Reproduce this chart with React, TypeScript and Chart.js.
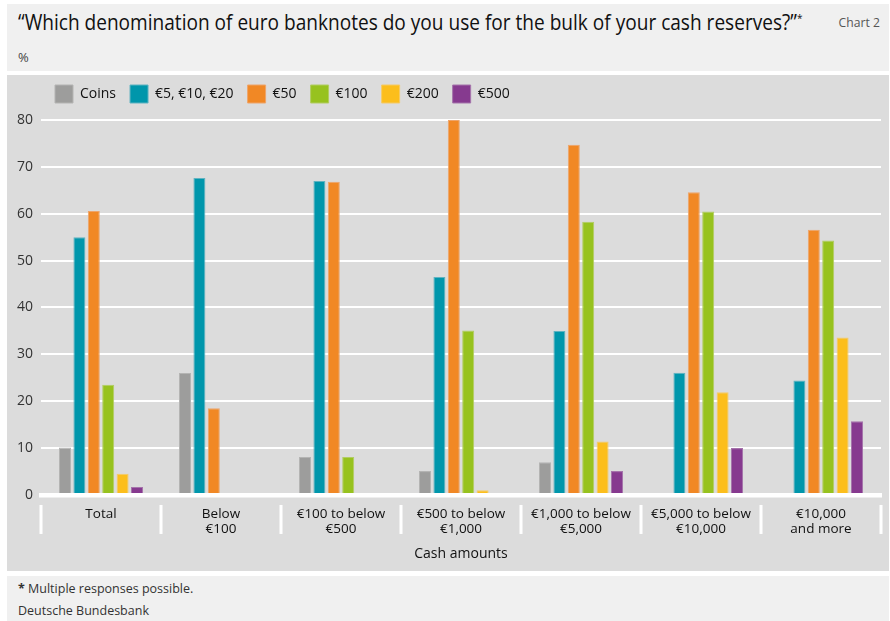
import React, { useEffect, useRef } from "react";
import { Chart, registerables } from "chart.js";

Chart.register(...registerables);

const categories: string[][] = [
  ["Total"],
  ["Below", "€100"],
  ["€100 to below", "€500"],
  ["€500 to below", "€1,000"],
  ["€1,000 to below", "€5,000"],
  ["€5,000 to below", "€10,000"],
  ["€10,000", "and more"],
];

const coins = [10.1, 26.0, 8.1, 5.1, 7.0, null, null];
const small = [55.0, 67.6, 67.0, 46.5, 35.0, 26.1, 24.4];
const fifty = [60.6, 18.5, 66.8, 80.0, 74.7, 64.6, 56.6];
const hundred = [23.5, null, 8.1, 35.1, 58.3, 60.5, 54.3];
const twoHundred = [4.5, null, null, 1.0, 11.4, 21.9, 33.6];
const fiveHundred = [1.7, null, null, null, 5.1, 10.0, 15.7];

const seriesNames = ["Coins", "€5, €10, €20", "€50", "€100", "€200", "€500"];
const yTicks = [0, 10, 20, 30, 40, 50, 60, 70, 80];

const FONT = "'Open Sans', 'Noto Sans', sans-serif";

const colors = ["#9d9d9c", "#0096ab", "#f18825", "#97c21f", "#fcbe1c", "#863a8f"];
const borders = ["#b4b4b3", "#5fb3c1", "#eea46a", "#b1cd62", "#f5ca66", "#a574ab"];

const dividerPlugin = {
  id: "dividers",
  afterDraw(chart: any) {
    const x = chart.scales.x;
    const n = chart.data.labels.length;
    const ctx = chart.ctx;
    const half = (x.getPixelForValue(1) - x.getPixelForValue(0)) / 2;
    const top = chart.chartArea.bottom + 10;
    const bottom = chart.chartArea.bottom + 39;
    ctx.save();
    ctx.fillStyle = "#ffffff";
    for (let i = 0; i <= n; i++) {
      const px = i < n ? x.getPixelForValue(i) - half : x.getPixelForValue(n - 1) + half;
      ctx.fillRect(Math.round(px) - 1.5, top, 3, bottom - top);
    }
    ctx.restore();
  },
};

function BarChart() {
  const ref = useRef<HTMLCanvasElement>(null);
  useEffect(() => {
    const data = [coins, small, fifty, hundred, twoHundred, fiveHundred];
    const chart = new Chart(ref.current!, {
      type: "bar",
      data: {
        labels: categories,
        datasets: data.map((d, i) => ({
          label: seriesNames[i],
          data: d,
          backgroundColor: colors[i],
          borderColor: borders[i],
          borderWidth: 1,
          borderSkipped: "start",
          categoryPercentage: 0.72,
          barPercentage: 0.833,
        })),
      },
      options: {
        animation: false,
        responsive: false,
        devicePixelRatio: 1,
        layout: { padding: { top: -4, right: 8, bottom: 9, left: 0 } },
        plugins: {
          legend: {
            position: "top",
            align: "start",
            fullSize: false,
            labels: {
              boxWidth: 18,
              boxHeight: 18,
              padding: 14,
              color: "#111",
              font: { family: FONT, size: 14 },
            },
          },
          subtitle: {
            display: true,
            text: "",
            position: "top",
            weight: 0,
            font: { size: 1, lineHeight: 1 },
            padding: { top: 3, bottom: 3 },
          },
          tooltip: { enabled: false },
        },
        scales: {
          x: {
            grid: { display: false, drawTicks: false, offset: true },
            border: { display: true, color: "#ffffff", width: 4.5, z: 1 },
            ticks: {
              color: "#111",
              padding: 12,
              font: { family: FONT, size: 13.5, lineHeight: 1.12 },
              maxRotation: 0,
              autoSkip: false,
            },
            title: {
              display: true,
              text: "Cash amounts",
              color: "#111",
              font: { family: FONT, size: 14 },
              padding: { top: -4, bottom: 0 },
            },
          },
          y: {
            min: 0,
            max: 80,
            afterFit(scale: any) {
              scale.width = 34;
            },
            afterBuildTicks(scale: any) {
              scale.ticks = yTicks.map((v) => ({ value: v }));
            },
            grid: {
              color: "#ffffff",
              lineWidth: (c: any) => (c.tick && c.tick.value === 0 ? 0 : 2),
              drawTicks: false,
            },
            border: { display: false },
            ticks: {
              color: "#333",
              padding: 8,
              font: { family: FONT, size: 14 },
            },
          },
        },
      },
      plugins: [dividerPlugin],
    });
    return () => chart.destroy();
  }, []);
  return <canvas ref={ref} width={882} height={496} style={{ display: "block" }} />;
}

export default function App() {
  return (
    <div
      style={{
        position: "fixed",
        left: 0,
        top: 0,
        width: 890,
        height: 621,
        background: "#ffffff",
        fontFamily: FONT,
        overflow: "hidden",
      }}
    >
      <div
        style={{
          position: "absolute",
          left: 7,
          top: 4,
          width: 882,
          height: 67,
          background: "#f0f0f0",
        }}
      >
        <div
          style={{
            position: "absolute",
            left: 11,
            top: 3,
            fontSize: 21,
            lineHeight: "30px",
            color: "#111",
            whiteSpace: "nowrap",
            transformOrigin: "left center",
            transform: "scaleX(0.908)",
          }}
        >
          “Which denomination of euro banknotes do you use for the bulk of your cash reserves?”
          <sup style={{ fontSize: 11, verticalAlign: "8px", lineHeight: 0 }}>*</sup>
        </div>
        <div
          style={{
            position: "absolute",
            right: 9,
            top: 9,
            fontSize: 13.5,
            lineHeight: "18px",
            color: "#555",
            whiteSpace: "nowrap",
            transformOrigin: "right center",
            transform: "scaleX(0.9)",
          }}
        >
          Chart 2
        </div>
        <div
          style={{
            position: "absolute",
            left: 11,
            top: 44,
            fontSize: 13,
            lineHeight: "18px",
            color: "#444",
          }}
        >
          %
        </div>
      </div>
      <div
        style={{
          position: "absolute",
          left: 7,
          top: 75,
          width: 882,
          height: 496,
          background: "#dcdcdc",
        }}
      >
        <BarChart />
      </div>
      <div
        style={{
          position: "absolute",
          left: 7,
          top: 576,
          width: 882,
          height: 45,
          background: "#f0f0f0",
          fontSize: 12.5,
          color: "#333",
        }}
      >
        <div style={{ position: "absolute", left: 11, top: 3, lineHeight: "20px", whiteSpace: "nowrap" }}>
          <b>*</b> Multiple responses possible.
        </div>
        <div style={{ position: "absolute", left: 11, top: 25, lineHeight: "20px", whiteSpace: "nowrap" }}>
          Deutsche Bundesbank
        </div>
      </div>
    </div>
  );
}
